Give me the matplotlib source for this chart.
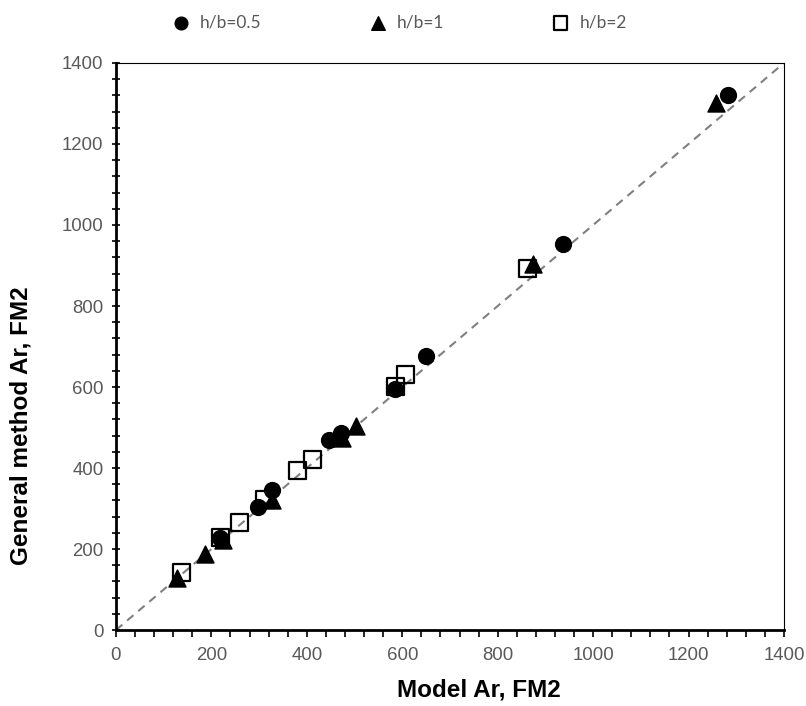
import matplotlib.pyplot as plt
from matplotlib.ticker import MultipleLocator

# h/b = 0.5 (circles)
x_05 = [1283, 937, 650, 585, 472, 446, 328, 297, 219]
y_05 = [1321, 953, 677, 594, 486, 469, 346, 303, 226]

# h/b = 1 (triangles)
x_1 = [1258, 874, 503, 474, 328, 224, 187, 128]
y_1 = [1302, 903, 504, 473, 321, 222, 188, 129]

# h/b = 2 (squares)
x_2 = [862, 606, 585, 412, 380, 312, 259, 220, 138]
y_2 = [893, 632, 601, 421, 393, 323, 265, 229, 141]

lims = [0, 1400]

fig = plt.figure(figsize=(8.06, 7.06), dpi=100)
ax = fig.add_axes([0.1439, 0.1076, 0.8288, 0.8032])

ax.plot(lims, lims, '--', color='#808080', lw=1.5, dashes=(4, 3), zorder=1)

sq = ax.scatter(x_2, y_2, marker='s', s=150, facecolors='none', edgecolors='black',
                linewidths=1.6, zorder=2, label='h/b=2')
tr = ax.scatter(x_1, y_1, marker='^', s=150, color='black', zorder=3, label='h/b=1')
ci = ax.scatter(x_05, y_05, marker='o', s=130, color='black', zorder=4, label='h/b=0.5')

ax.set_xlim(lims)
ax.set_ylim(lims)
ax.xaxis.set_major_locator(MultipleLocator(200))
ax.yaxis.set_major_locator(MultipleLocator(200))
ax.xaxis.set_minor_locator(MultipleLocator(40))
ax.yaxis.set_minor_locator(MultipleLocator(40))

for side in ['left', 'bottom']:
    ax.spines[side].set_linewidth(2)
for side in ['right', 'top']:
    ax.spines[side].set_linewidth(0.8)

ax.tick_params(axis='x', which='both', direction='out', length=5, width=1.2,
               top=False, labelsize=13.4, labelcolor='#595959', pad=7)
ax.tick_params(axis='y', which='both', direction='inout', length=6, width=1.2,
               right=False, labelsize=13.4, labelcolor='#595959', pad=6)
for lab in ax.get_xticklabels() + ax.get_yticklabels():
    lab.set_family('Liberation Sans')

ax.set_xlabel('Model Ar, FM2', fontsize=17.5, fontweight='bold', family='Liberation Sans')
ax.xaxis.set_label_coords(0.543, -0.085)
ax.set_ylabel('General method Ar, FM2', fontsize=17.5, fontweight='bold', family='Liberation Sans')
ax.yaxis.set_label_coords(-0.125, 0.36)

leg = ax.legend(handles=[ci, tr, sq], loc='lower center', bbox_to_anchor=(0.418, 1.03),
                ncol=3, frameon=False, markerscale=0.8, handletextpad=0.1,
                columnspacing=5.7, prop={'family': 'Lato', 'size': 12.5})
for t in leg.get_texts():
    t.set_color('#595959')

fig.savefig('out.png', dpi=100)
